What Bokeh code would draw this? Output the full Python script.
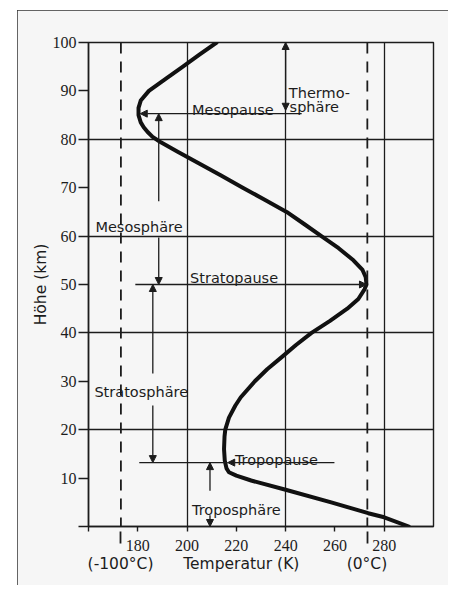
from bokeh.plotting import figure
from bokeh.models import (FixedTicker, Span, Arrow, NormalHead, Label,
                          LinearAxis, Spacer)
from bokeh.layouts import row, column
from bokeh.embed import file_html
from bokeh.resources import INLINE

# --- data: temperature profile of the atmosphere ---
height_km = [0, 1.9, 2.75, 5, 7.6, 9.5, 10.5, 11.2, 12, 13.6, 16, 18.6, 20,
             22.5, 25, 26.7, 30, 32.5, 35, 37.5, 40, 42.5, 45, 47, 49, 50,
             51.5, 53, 55, 57.5, 60, 62.5, 65, 67.5, 70, 72.5, 75, 77.5,
             79.5, 80.5, 81.5, 82.5, 83.5, 85, 86.5, 88, 90, 92.5, 95, 97.5,
             100]
temp_k = [290, 280, 273.5, 258.5, 240, 226, 220, 217, 216, 215.3, 215, 215.2,
          215.5, 217, 219.6, 221.8, 227.5, 232.5, 238.4, 244.2, 250.5, 258,
          265, 269.5, 272, 272.8, 272.5, 271.2, 267.5, 261.5, 254.5, 247.5,
          240.4, 231.5, 222.6, 213.8, 204.9, 196, 189, 186, 184, 182.4,
          181.2, 180.3, 180.3, 181.2, 184.5, 191.3, 198.3, 205, 212]

x_ticks = [160, 180, 200, 220, 240, 260, 280]
x_tick_labels = {160: "", 180: "180", 200: "200", 220: "220", 240: "240",
                 260: "260", 280: "280"}
y_ticks = [0, 10, 20, 30, 40, 50, 60, 70, 80, 90, 100]
y_tick_labels = {0: ""}
x_grid = [200, 240, 280]
y_grid = [20, 40, 60, 80]
celsius_marks = [173.15, 273.15]   # -100 °C and 0 °C
# second label row under the x axis: Celsius marks and the axis title
row2_ticks = [173, 222, 273]
row2_labels = {173: "(-100°C)", 222: "Temperatur (K)", 273: "(0°C)"}

# layer boundaries (km) and their temperatures
tropopause_km, tropopause_k = 13.2, 216.5
stratopause_km, stratopause_k = 50, 272.8
mesopause_km, mesopause_k = 85.3, 180.5

INK = "#1c1c1c"
BG = "#f6f6f6"
TXT_FONT = "DejaVu Sans"
NUM_FONT = "Liberation Sans Narrow"

p = figure(width=431, height=575, x_range=(160, 300), y_range=(0, 100),
           output_backend="svg", toolbar_location=None,
           min_border_left=71, min_border_right=15, min_border_top=32,
           min_border_bottom=59)
p.styles = {"outline": "2px solid #333", "outline-offset": "-2px"}
p.background_fill_color = BG
p.border_fill_color = BG
p.outline_line_color = INK
p.outline_line_width = 1.4

# axes
p.xaxis.ticker = FixedTicker(ticks=x_ticks, minor_ticks=celsius_marks)
p.xaxis.major_label_overrides = x_tick_labels
p.xaxis.major_tick_out = 5
p.xaxis.major_tick_in = 0
p.xaxis.minor_tick_out = 17
p.xaxis.minor_tick_in = 0
p.xaxis.minor_tick_line_dash = "12 100"
p.xaxis.minor_tick_line_width = 1.8
p.xaxis.minor_tick_line_color = INK
p.xaxis.major_label_standoff = -4

ax2 = LinearAxis(ticker=FixedTicker(ticks=row2_ticks),
                 major_label_overrides=row2_labels,
                 axis_line_color=None, major_tick_line_color=None,
                 minor_tick_line_color=None, major_tick_out=0,
                 major_tick_in=0, major_label_standoff=1,
                 major_label_text_font=TXT_FONT,
                 major_label_text_font_size="15.5px",
                 major_label_text_color=INK)
p.add_layout(ax2, "below")

p.yaxis.ticker = FixedTicker(ticks=y_ticks)
p.yaxis.major_label_overrides = y_tick_labels
p.yaxis.major_tick_out = 10
p.yaxis.major_tick_in = 0
p.yaxis.major_label_standoff = 2
p.yaxis.axis_label = "Höhe (km)"
p.yaxis.axis_label_standoff = 0
p.yaxis.axis_label_text_font = TXT_FONT
p.yaxis.axis_label_text_font_style = "normal"
p.yaxis.axis_label_text_font_size = "15.5px"
p.yaxis.axis_label_text_color = INK

for ax in (p.xaxis[0], p.yaxis[0]):
    ax.axis_line_color = INK
    ax.axis_line_width = 1.5
    ax.major_tick_line_color = INK
    ax.major_tick_line_width = 1.4
    ax.major_label_text_font = NUM_FONT
    ax.major_label_text_font_size = "16px"
    ax.major_label_text_color = INK

p.xgrid.ticker = FixedTicker(ticks=x_grid)
p.ygrid.ticker = FixedTicker(ticks=y_grid)
for g in (p.xgrid[0], p.ygrid[0]):
    g.grid_line_color = INK
    g.grid_line_width = 1.3
    g.grid_line_alpha = 1.0

# dashed -100 °C and 0 °C lines
for xm in celsius_marks:
    p.add_layout(Span(location=xm, dimension="height", line_color=INK,
                      line_width=1.8, line_dash="11 8"))

# temperature curve
p.line(temp_k, height_km, line_color="#111111", line_width=4,
       line_join="round", line_cap="round")


def head():
    return NormalHead(size=7, fill_color=INK, line_color=INK, line_width=1)


def arrow(x0, y0, x1, y1, both=False):
    p.add_layout(Arrow(x_start=x0, y_start=y0, x_end=x1, y_end=y1,
                       end=head(), start=(head() if both else None),
                       line_color=INK, line_width=1.3))


# Thermosphäre
arrow(240, 86, 240, 100, both=True)
# Mesopause
arrow(246.5, mesopause_km, mesopause_k + 0.5, mesopause_km)
# Mesosphäre
arrow(188.5, 67.2, 188.5, mesopause_km)
arrow(188.5, 59.7, 188.5, stratopause_km)
# Stratopause
arrow(179, stratopause_km, stratopause_k, stratopause_km)
# Stratosphäre
arrow(186.1, 31.6, 186.1, stratopause_km)
arrow(186.1, 25, 186.1, tropopause_km)
# Tropopause
arrow(259.8, tropopause_km, tropopause_k, tropopause_km)
p.segment(x0=[180.6], y0=[tropopause_km], x1=[tropopause_k],
          y1=[tropopause_km], line_color=INK, line_width=1.3)
# Troposphäre
arrow(209.3, 7.4, 209.3, tropopause_km)
arrow(209.3, 2.3, 209.3, 0)


def label(x, y, text, size="14.5px"):
    p.add_layout(Label(x=x, y=y, text=text, text_font=TXT_FONT,
                       text_font_size=size, text_color=INK,
                       text_align="left", text_baseline="alphabetic"))


label(241.3, 89.5, "Thermo-")
label(241.6, 86.6, "sphäre")
label(202, 86.0, "Mesopause")
label(162.8, 61.8, "Mesosphäre")
label(201.2, 51.3, "Stratopause")
label(162.4, 27.8, "Stratosphäre")
label(219.4, 13.7, "Tropopause")
label(202, 3.5, "Troposphäre")

layout = column(Spacer(height=10), row(Spacer(width=17), p))
open("out.html", "w").write(file_html(layout, INLINE))
